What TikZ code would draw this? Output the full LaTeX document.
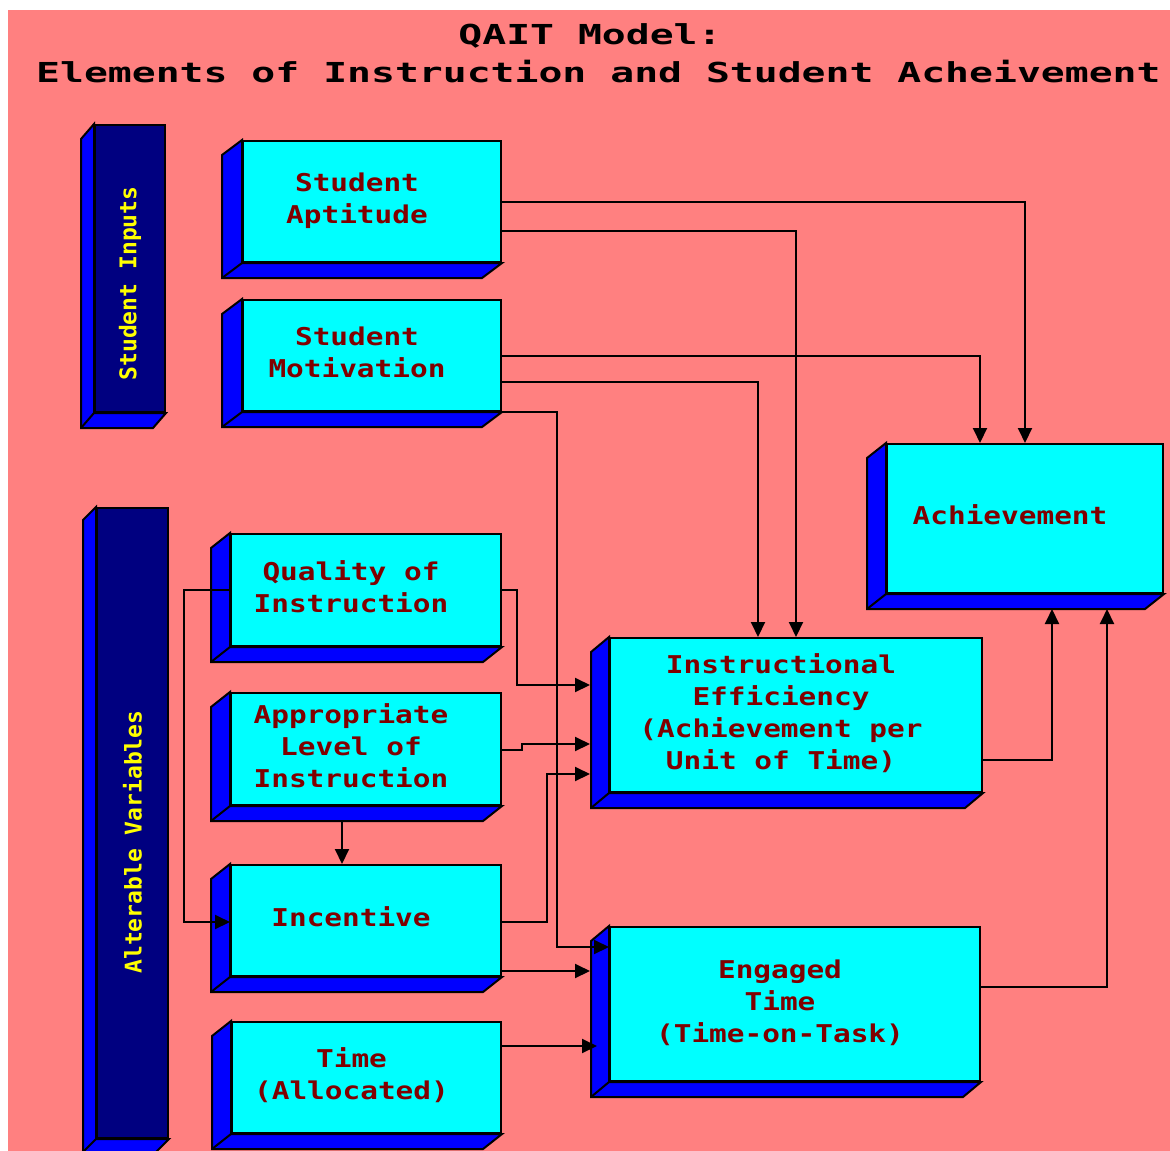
\documentclass[tikz,border=0pt]{standalone}
\usepackage{fontspec}
\usetikzlibrary{arrows.meta}

\newfontfamily\boxfont{DejaVu Sans Mono}[FakeStretch=1.2]
\newfontfamily\titlefont{DejaVu Sans Mono}[FakeStretch=1.445]
\newfontfamily\barfont{DejaVu Sans Mono}

\definecolor{bgpink}{HTML}{FF8080}
\definecolor{facecyan}{HTML}{00FFFF}
\definecolor{sideblue}{HTML}{0000FF}
\definecolor{barnavy}{HTML}{000080}
\definecolor{txtred}{HTML}{800000}
\definecolor{txtyellow}{HTML}{FFFF00}

% text centred on the whole block, not only on its front face
\newcommand\facetext[1]{\hspace*{-30pt}\begin{tabular}{@{}c@{}}#1\end{tabular}}

\tikzset{
  block/.style={draw=black, line width=2pt, fill=facecyan, inner sep=0pt,
    text=txtred, font=\boxfont\bfseries\fontsize{24.5}{32}\selectfont},
  bar/.style={draw=black, line width=2pt, fill=barnavy, inner sep=0pt,
    text=txtyellow, font=\barfont\bfseries\fontsize{23}{30}\selectfont},
  side/.style={draw=black, fill=sideblue, line width=2pt},
  titletext/.style={inner sep=0pt, font=\titlefont\bfseries\fontsize{27.5}{36}\selectfont},
  conn/.style={line width=2pt, -{Triangle[length=15pt,width=14pt]}}
}

\begin{document}
\begin{tikzpicture}[x=1pt, y=1pt]
  \useasboundingbox (0,0) rectangle (1170,-1151);
  \fill[white] (0,0) rectangle (1170,-1151);
  \fill[bgpink] (8,-10) rectangle (1170,-1151);

  % title
  \node[titletext] (title) at (590,-36) {QAIT Model:};
  \node[titletext, anchor=west] (subtitle) at (36,-72) {Elements of Instruction and Student Acheivement};

  % side bars
  \node[bar, minimum width=70pt, minimum height=287pt] (inputs) at (130,-268.5)
    {\rotatebox{90}{\hspace*{-30pt}Student Inputs}};
  \node[bar, minimum width=71pt, minimum height=630pt] (alter) at (132.5,-823)
    {\rotatebox{90}{\hspace*{-38pt}Alterable Variables}};

  % boxes
  \node[block, minimum width=258pt, minimum height=121pt] (apt) at (372,-201.5) {\facetext{Student\\Aptitude}};
  \node[block, minimum width=258pt, minimum height=111pt] (mot) at (372,-355.5) {\facetext{Student\\Motivation}};
  \node[block, minimum width=270pt, minimum height=112pt] (qual) at (366,-590) {\facetext{Quality of\\Instruction}};
  \node[block, minimum width=270pt, minimum height=112pt] (lvl) at (366,-749) {\facetext{Appropriate\\Level of\\Instruction}};
  \node[block, minimum width=270pt, minimum height=111pt] (inc) at (366,-920.5) {\facetext{Incentive}};
  \node[block, minimum width=269pt, minimum height=111pt] (talloc) at (366.5,-1077.5) {\facetext{Time\\(Allocated)}};
  \node[block, minimum width=372pt, minimum height=154pt] (eff) at (796,-715)
    {\facetext{Instructional\\Efficiency\\(Achievement per\\Unit of Time)}};
  \node[block, minimum width=370pt, minimum height=154pt] (eng) at (795,-1004) {\facetext{Engaged\\Time\\(Time-on-Task)}};
  \node[block, minimum width=276pt, minimum height=149pt] (ach) at (1025,-518.5) {\facetext{Achievement}};

  % 3d sides
  \foreach \n/\dx/\dy in {inputs/13/15, alter/13/13, apt/20/15, mot/20/15, qual/19/15, lvl/19/15,
                          inc/19/15, talloc/19/15, eff/18/15, eng/18/15, ach/19/15}{
    \draw[side] (\n.north west) -- ++(-\dx pt,-\dy pt)
      -- ([shift={(-\dx pt,-\dy pt)}]\n.south west)
      -- ([shift={(-\dx pt,-\dy pt)}]\n.south east)
      -- (\n.south east) -- (\n.south west) -- cycle;
    \draw[line width=2pt] (\n.south west) -- ++(-\dx pt,-\dy pt);
  }

  % connectors
  \draw[conn] (apt.east) -| (ach.north);
  \draw[conn] ([yshift=-29pt]apt.east) -| (eff.north);
  \draw[conn] (mot.east) -| ([xshift=-45pt]ach.north);
  \draw[conn] ([yshift=-26pt]mot.east) -| ([xshift=-38pt]eff.north);
  \draw[conn] (mot.south east) -- ++(55,0) |- ([yshift=57pt]eng.west);
  \draw[conn] (qual.west) -- ++(-46,0) |- ([yshift=-1.5pt]inc.west);
  \draw[conn] (qual.east) -- ++(15,0) |- ([xshift=-19pt,yshift=30pt]eff.west);
  \draw[conn] ([yshift=-1pt]lvl.east) -- ++(20,0) |- ([xshift=-19pt,yshift=-29pt]eff.west);
  \draw[conn] ([xshift=-24pt,yshift=-15pt]lvl.south) -- ([xshift=-24pt]inc.north);
  \draw[conn] ([yshift=-1.5pt]inc.east) -- ++(45,0) |- ([xshift=-19pt,yshift=-59pt]eff.west);
  \draw[conn] ([yshift=-50.5pt]inc.east) -- ([xshift=-19pt,yshift=33pt]eng.west);
  \draw[conn] ([yshift=31.5pt]talloc.east) -- ([xshift=-12pt,yshift=-42pt]eng.west);
  \draw[conn] ([yshift=-45pt]eff.east) -| ([xshift=27pt,yshift=-15pt]ach.south);
  \draw[conn] ([yshift=17pt]eng.east) -| ([xshift=82pt,yshift=-15pt]ach.south);
\end{tikzpicture}
\end{document}
